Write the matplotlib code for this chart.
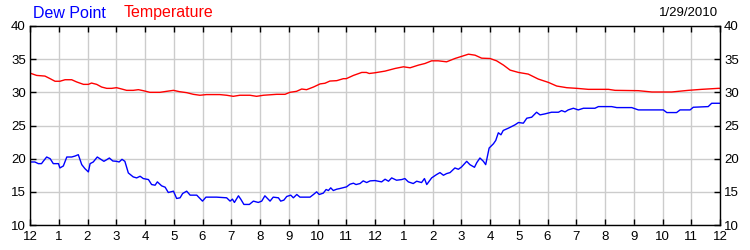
import matplotlib
matplotlib.use("Agg")
from matplotlib import pyplot as plt

plt.rcParams['font.family'] = ['Liberation Sans', 'DejaVu Sans']

# hours since midnight -> temperature
temp_hours = [0.0, 0.23, 0.52, 0.7, 0.87, 1.04, 1.22, 1.45, 1.62, 1.86, 2.03, 2.14, 2.32, 2.49,
              2.67, 2.84, 3.01, 3.19, 3.36, 3.59, 3.77, 3.94, 4.17, 4.52, 4.75, 4.99, 5.2, 5.45,
              5.68, 5.91, 6.14, 6.6, 6.84, 7.07, 7.3, 7.65, 7.88, 8.12, 8.58, 8.87, 9.04, 9.27,
              9.45, 9.62, 9.86, 10.09, 10.26, 10.43, 10.67, 10.9, 11.0, 11.25, 11.54, 11.7, 11.8,
              12.0, 12.35, 12.7, 12.99, 13.22, 13.51, 13.74, 13.97, 14.2, 14.49, 14.78, 15.07,
              15.25, 15.48, 15.71, 16.0, 16.23, 16.47, 16.7, 16.99, 17.33, 17.68, 18.03, 18.32,
              18.67, 19.02, 19.42, 20.12, 20.35, 21.16, 21.63, 22.32, 22.9, 23.36, 23.94, 24.0]
temp_values = [32.9, 32.55, 32.45, 32.06, 31.67, 31.67, 31.9, 31.9, 31.57, 31.2, 31.2, 31.4, 31.2, 30.8,
               30.6, 30.6, 30.7, 30.5, 30.3, 30.3, 30.4, 30.25, 30.0, 30.0, 30.15, 30.3, 30.1, 29.95,
               29.7, 29.56, 29.66, 29.66, 29.56, 29.4, 29.56, 29.56, 29.4, 29.56, 29.7, 29.7, 30.0, 30.15,
               30.5, 30.4, 30.8, 31.27, 31.37, 31.7, 31.76, 32.06, 32.06, 32.55, 33.0, 33.0, 32.84,
               32.95, 33.2, 33.6, 33.85, 33.7, 34.1, 34.35, 34.75, 34.75, 34.6, 35.1, 35.5,
               35.75, 35.6, 35.15, 35.1, 34.75, 34.1, 33.35, 33.0, 32.75, 32.0, 31.5, 30.95,
               30.7, 30.6, 30.45, 30.45, 30.3, 30.25, 30.05, 30.05, 30.3, 30.45, 30.6, 30.6]

# hours since midnight -> dew point
dew_hours = [0.0, 0.17, 0.29, 0.4, 0.46, 0.58, 0.7, 0.81, 0.99, 1.04, 1.16, 1.28, 1.45, 1.57, 1.68,
             1.8, 1.91, 2.03, 2.09, 2.2, 2.34, 2.43, 2.57, 2.67, 2.76, 2.88, 3.01, 3.1, 3.2, 3.3,
             3.42, 3.59, 3.71, 3.83, 3.94, 4.12, 4.23, 4.35, 4.43, 4.58, 4.7, 4.81, 4.99, 5.1, 5.22,
             5.31, 5.45, 5.57, 5.8, 5.91, 6.0, 6.12, 6.49, 6.84, 6.96, 7.04, 7.11, 7.25, 7.33, 7.44,
             7.63, 7.77, 7.94, 8.06, 8.17, 8.35, 8.46, 8.64, 8.72, 8.83, 8.93, 9.07, 9.16, 9.28,
             9.39, 9.74, 9.86, 9.97, 10.06, 10.2, 10.3, 10.38, 10.46, 10.55, 10.67, 10.78, 11.01,
             11.13, 11.25, 11.34, 11.48, 11.59, 11.71, 11.83, 12.0,
             12.23, 12.35, 12.47, 12.58, 12.75, 12.93, 13.04, 13.16, 13.33, 13.45, 13.62, 13.72,
             13.8, 13.97, 14.14, 14.26, 14.38, 14.49, 14.61, 14.78, 14.9, 15.01, 15.19, 15.3,
             15.46, 15.54, 15.65, 15.77, 15.85, 15.97, 16.12, 16.2, 16.29, 16.38, 16.46, 16.64,
             16.87, 16.99, 17.16, 17.28, 17.45, 17.62, 17.74, 17.91, 18.14, 18.38, 18.49, 18.61,
             18.72, 18.9, 19.07, 19.25, 19.65, 19.77, 20.23, 20.41, 20.93, 21.16, 22.03, 22.15,
             22.49, 22.61, 22.96, 23.07, 23.59, 23.71, 24.0]
dew_values = [19.5, 19.5, 19.25, 19.25, 19.6, 20.25, 20.0, 19.25, 19.25, 18.6, 18.9, 20.25, 20.25, 20.4, 20.6,
              19.1, 18.5, 18.0, 19.25, 19.5, 20.25, 20.0, 19.6, 19.85, 20.1, 19.65, 19.6, 19.5, 19.9, 19.6,
              17.85, 17.25, 17.1, 17.35, 17.0, 16.85, 16.1, 16.0, 16.5, 15.9, 15.7, 14.9, 15.1, 14.0, 14.1,
              14.75, 15.1, 14.5, 14.5, 14.0, 13.6, 14.2, 14.2, 14.1, 13.6, 13.9, 13.4, 14.4, 13.9, 13.1,
              13.1, 13.6, 13.4, 13.6, 14.4, 13.6, 14.2, 14.1, 13.6, 13.75, 14.3, 14.5, 14.1, 14.6,
              14.2, 14.2, 14.6, 15.0, 14.6, 14.8, 15.35, 15.2, 15.6, 15.2, 15.4, 15.5, 15.75,
              16.15, 16.3, 16.1, 16.25, 16.65, 16.4, 16.65, 16.7,
              16.5, 16.9, 16.6, 17.1, 16.75, 16.85, 17.0, 16.5, 16.25, 16.6, 16.4, 17.0,
              16.1, 17.1, 17.6, 17.9, 17.5, 17.75, 17.9, 18.6, 18.4, 18.75, 19.6, 19.1,
              18.7, 19.4, 20.1, 19.6, 19.1, 21.6, 22.25, 22.75, 23.9, 23.6, 24.25, 24.6,
              25.1, 25.45, 25.35, 26.1, 26.25, 27.0, 26.6, 26.75, 27.0, 27.0, 27.25, 27.05,
              27.35, 27.6, 27.35, 27.6, 27.6, 27.85, 27.85, 27.7, 27.7, 27.35, 27.35, 26.95,
              26.95, 27.35, 27.35, 27.75, 27.85, 28.35, 28.35]

hour_labels = ['12', '1', '2', '3', '4', '5', '6', '7', '8', '9', '10', '11'] * 2 + ['12']
y_ticks = [10, 15, 20, 25, 30, 35, 40]

fig = plt.figure(figsize=(7.5, 2.5), dpi=100)
ax = fig.add_axes([0.04, 0.1, 0.92, 0.796])

ax.plot(temp_hours, temp_values, color='#ff0000', linewidth=1)
ax.plot(dew_hours, dew_values, color='#0000ff', linewidth=1)

ax.set_xlim(0, 24)
ax.set_ylim(10, 40)
ax.set_xticks(range(25))
ax.set_xticklabels(hour_labels)
ax.set_yticks(y_ticks)
ax.grid(True, color='#cccccc', linewidth=1)
ax.set_axisbelow(True)
for s in ax.spines.values():
    s.set_color('black')
    s.set_linewidth(1)
ax.tick_params(direction='in', length=4, width=1, top=True, right=True,
               labelright=True, labelsize=9.5, colors='black', pad=3)
ax.tick_params(axis='x', pad=4)

fig.text(0.044, 0.948, 'Dew Point', color='#0000ff', fontsize=11.5, va='center')
fig.text(0.165, 0.948, 'Temperature', color='#ff0000', fontsize=11.5, va='center')
fig.text(0.957, 0.948, '1/29/2010', color='black', fontsize=9.5, va='center', ha='right')

fig.savefig('out.png', dpi=100)
